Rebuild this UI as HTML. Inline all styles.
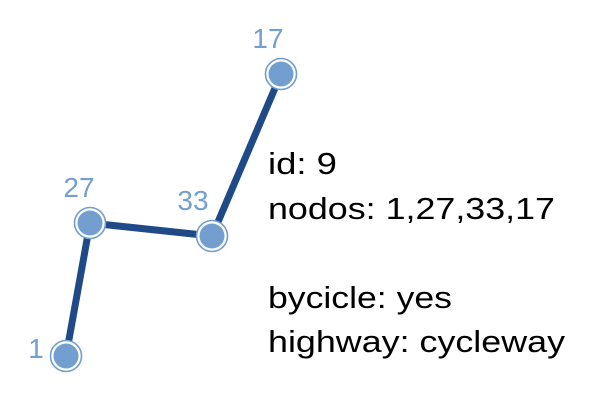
<!DOCTYPE html>
<html><head><meta charset="utf-8"><style>
html,body{margin:0;padding:0;background:#fff;}
svg{display:block;}
</style></head><body>
<svg id="chart" width="600" height="407" viewBox="0 0 600 407" xmlns="http://www.w3.org/2000/svg" font-family="'Liberation Sans','DejaVu Sans',sans-serif">
<g id="edges"></g>
<g id="nodes"></g>
<g id="info" font-size="31" fill="#000">
<text x="268" y="174" textLength="69" lengthAdjust="spacingAndGlyphs">id: 9</text>
<text x="268" y="219" textLength="287" lengthAdjust="spacingAndGlyphs">nodos: 1,27,33,17</text>
<text x="268" y="308" textLength="184" lengthAdjust="spacingAndGlyphs">bycicle: yes</text>
<text x="268" y="352" textLength="297" lengthAdjust="spacingAndGlyphs">highway: cycleway</text>
</g>
</svg>
<script>
const nodeIds = ["1","27","33","17"];
const nodeX = [66, 90, 212, 281];
const nodeY = [356, 223, 236, 74];
const labelDx = [-30, -11, -19, -13];
const labelDy = [2, -26, -26, -26];
const NS = "http://www.w3.org/2000/svg";
const eg = document.getElementById('edges');
const ng = document.getElementById('nodes');
for (let i = 0; i < nodeIds.length - 1; i++) {
  const l = document.createElementNS(NS, 'line');
  
  
  l.setAttribute('x1', nodeX[i]); l.setAttribute('y1', nodeY[i]);
  l.setAttribute('x2', nodeX[i+1]); l.setAttribute('y2', nodeY[i+1]);
  l.setAttribute('stroke', '#204a87'); l.setAttribute('stroke-width', '7');
  eg.appendChild(l);
}
for (let i = 0; i < nodeIds.length; i++) {
  const g = document.createElementNS(NS, 'g');
  
  
  const ring = document.createElementNS(NS, 'circle');
  ring.setAttribute('cx', nodeX[i]); ring.setAttribute('cy', nodeY[i]); ring.setAttribute('r', 15.5);
  ring.setAttribute('fill', '#fff'); ring.setAttribute('stroke', '#729fcf'); ring.setAttribute('stroke-width', '1.6');
  g.appendChild(ring);
  const c = document.createElementNS(NS, 'circle');
  c.setAttribute('cx', nodeX[i]); c.setAttribute('cy', nodeY[i]); c.setAttribute('r', 12.5);
  c.setAttribute('fill', '#729fcf');
  g.appendChild(c);
  const t = document.createElementNS(NS, 'text');
  
  
  t.setAttribute('x', nodeX[i] + labelDx[i]); t.setAttribute('y', nodeY[i] + labelDy[i]);
  t.setAttribute('text-anchor', 'middle'); t.setAttribute('font-size', '28');
  t.setAttribute('fill', '#729fcf');
  t.textContent = nodeIds[i];
  g.appendChild(t);
  ng.appendChild(g);
}
</script>
</body></html>
